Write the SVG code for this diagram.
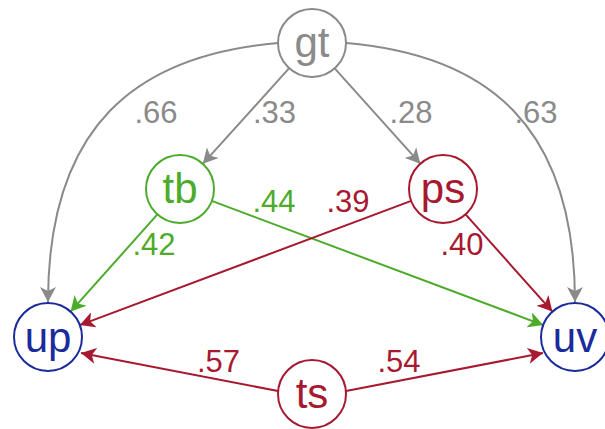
<svg xmlns="http://www.w3.org/2000/svg" width="605" height="429" viewBox="0 0 605 429">
  <style>
    .node circle { fill: #ffffff; stroke-width: 2; }
    .node text { font-family: "Liberation Sans", Arial, sans-serif; font-size: 42px; text-anchor: middle; }
    .edge { fill: none; stroke-width: 2; }
    .lbl { font-family: "Liberation Sans", Arial, sans-serif; font-size: 31px; text-anchor: middle; }
    .gray { stroke: #8a8a8a; }
    .green { stroke: #4dab2c; }
    .red { stroke: #a71930; }
    .blue { stroke: #1a2b9c; }
    .t-gray { fill: #8a8a8a; }
    .t-green { fill: #4dab2c; }
    .t-red { fill: #a71930; }
    .t-blue { fill: #1a2b9c; }
  </style>
  <defs>
    <marker id="ah-gray" markerUnits="userSpaceOnUse" markerWidth="15" markerHeight="16" refX="15" refY="8" orient="auto">
      <path d="M0,0 L15,8 L0,16 L4,8 Z" fill="#8a8a8a"/>
    </marker>
    <marker id="ah-green" markerUnits="userSpaceOnUse" markerWidth="15" markerHeight="16" refX="15" refY="8" orient="auto">
      <path d="M0,0 L15,8 L0,16 L4,8 Z" fill="#4dab2c"/>
    </marker>
    <marker id="ah-red" markerUnits="userSpaceOnUse" markerWidth="15" markerHeight="16" refX="15" refY="8" orient="auto">
      <path d="M0,0 L15,8 L0,16 L4,8 Z" fill="#a71930"/>
    </marker>
  </defs>

  <g id="connectors">
    <!-- from gt -->
    <path class="edge gray" d="M278,43 C136,55 48,126 48,302" marker-end="url(#ah-gray)"/>
    <path class="edge gray" d="M346,43 C488,55 575,126 575,302" marker-end="url(#ah-gray)"/>
    <path class="edge gray" d="M289.2,68.2 L202.8,163.8" marker-end="url(#ah-gray)"/>
    <path class="edge gray" d="M334.7,68.3 L420.3,163.7" marker-end="url(#ah-gray)"/>
    <!-- from tb -->
    <path class="edge green" d="M157.4,214.4 L70.6,311.6" marker-end="url(#ah-green)"/>
    <path class="edge green" d="M211.8,200.9 L543.2,325.1" marker-end="url(#ah-green)"/>
    <!-- from ps -->
    <path class="edge red" d="M411.2,200.9 L79.8,325.1" marker-end="url(#ah-red)"/>
    <path class="edge red" d="M465.6,214.4 L552.4,311.6" marker-end="url(#ah-red)"/>
    <!-- from ts -->
    <path class="edge red" d="M278,391 L81,353" marker-end="url(#ah-red)"/>
    <path class="edge red" d="M346,391 L543,353" marker-end="url(#ah-red)"/>

    <!-- weights -->
    <text class="lbl t-gray" x="156" y="123">.66</text>
    <text class="lbl t-gray" x="274.5" y="123">.33</text>
    <text class="lbl t-gray" x="411" y="123">.28</text>
    <text class="lbl t-gray" x="536" y="123">.63</text>
    <text class="lbl t-green" x="274" y="212">.44</text>
    <text class="lbl t-red" x="348" y="212">.39</text>
    <text class="lbl t-green" x="154" y="255">.42</text>
    <text class="lbl t-red" x="462" y="255">.40</text>
    <text class="lbl t-red" x="218.5" y="372">.57</text>
    <text class="lbl t-red" x="399" y="372">.54</text>
  </g>

  <g id="gt" class="node">
    <circle class="gray" cx="312" cy="43" r="34"/>
    <text class="t-gray" x="312" y="57">gt</text>
  </g>
  <g id="tb" class="node">
    <circle class="green" cx="180" cy="189" r="34"/>
    <text class="t-green" x="180" y="203">tb</text>
  </g>
  <g id="ps" class="node">
    <circle class="red" cx="443" cy="189" r="34"/>
    <text class="t-red" x="443" y="203">ps</text>
  </g>
  <g id="up" class="node">
    <circle class="blue" cx="48" cy="337" r="34"/>
    <text class="t-blue" x="48" y="352">up</text>
  </g>
  <g id="uv" class="node">
    <circle class="blue" cx="575" cy="337" r="34"/>
    <text class="t-blue" x="575" y="352">uv</text>
  </g>
  <g id="ts" class="node">
    <circle class="red" cx="312" cy="394" r="34"/>
    <text class="t-red" x="312" y="408">ts</text>
  </g>
</svg>
